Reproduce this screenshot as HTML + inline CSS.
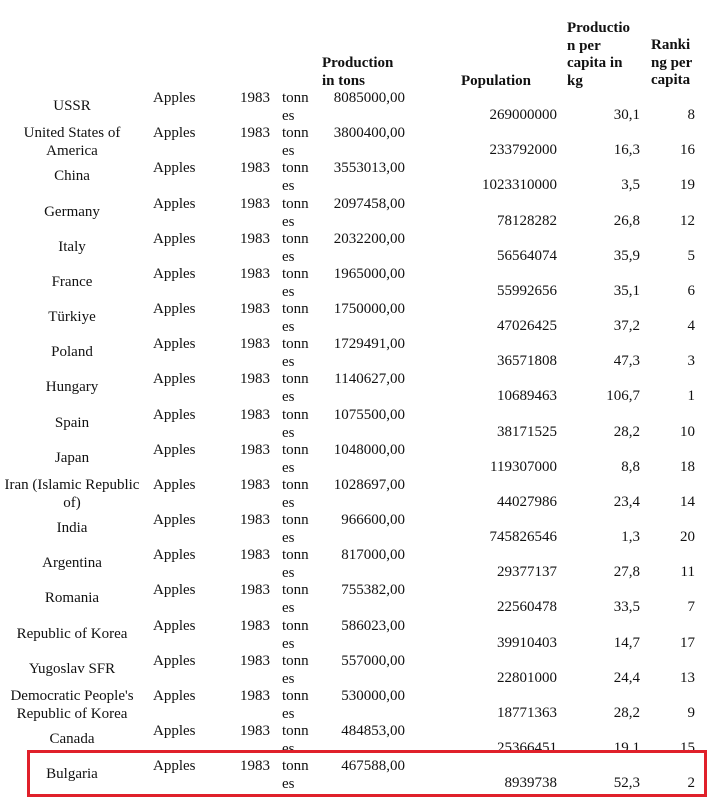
<!DOCTYPE html>
<html><head><meta charset="utf-8"><style>
body{margin:0;width:712px;height:799px;background:#fff;position:relative;overflow:hidden;font-family:"Liberation Serif",serif;font-size:15px;color:#111;}
.h{position:absolute;font-weight:bold;line-height:17.7px;}
.r{position:absolute;left:0;width:712px;height:35px;}
.r span{position:absolute;line-height:18px;white-space:nowrap;}
.c{left:0;width:144px;text-align:center;}
.a{left:153px;}
.y{left:229px;width:41px;text-align:right;}
.t{left:282px;}
.e{left:282px;}
.p{left:300px;width:105px;text-align:right;}
.po{left:450px;width:107px;text-align:right;}
.pc{left:590px;width:50px;text-align:right;}
.rk{left:660px;width:35px;text-align:right;}
#box{position:absolute;left:27px;top:750px;width:674px;height:41px;border:3px solid #e0202a;background:#fff;z-index:2;}
</style></head><body>
<div class="h" style="left:322px;top:55px">Production<br>in tons</div>
<div class="h" style="left:461px;top:73px">Population</div>
<div class="h" style="left:567px;top:20px">Productio<br>n per<br>capita in<br>kg</div>
<div class="h" style="left:651px;top:37px">Ranki<br>ng per<br>capita</div>

<div class="r" style="top:89px"><span class="c" style="top:8px">USSR</span><span class="a">Apples</span><span class="y">1983</span><span class="t">tonn</span><span class="e" style="top:18px">es</span><span class="p">8085000,00</span><span class="po" style="top:17px">269000000</span><span class="pc" style="top:17px">30,1</span><span class="rk" style="top:17px">8</span></div>
<div class="r" style="top:124px"><span class="c" style="top:0">United States of<br>America</span><span class="a">Apples</span><span class="y">1983</span><span class="t">tonn</span><span class="e" style="top:18px">es</span><span class="p">3800400,00</span><span class="po" style="top:17px">233792000</span><span class="pc" style="top:17px">16,3</span><span class="rk" style="top:17px">16</span></div>
<div class="r" style="top:159px"><span class="c" style="top:8px">China</span><span class="a">Apples</span><span class="y">1983</span><span class="t">tonn</span><span class="e" style="top:18px">es</span><span class="p">3553013,00</span><span class="po" style="top:17px">1023310000</span><span class="pc" style="top:17px">3,5</span><span class="rk" style="top:17px">19</span></div>
<div class="r" style="top:195px"><span class="c" style="top:8px">Germany</span><span class="a">Apples</span><span class="y">1983</span><span class="t">tonn</span><span class="e" style="top:18px">es</span><span class="p">2097458,00</span><span class="po" style="top:17px">78128282</span><span class="pc" style="top:17px">26,8</span><span class="rk" style="top:17px">12</span></div>
<div class="r" style="top:230px"><span class="c" style="top:8px">Italy</span><span class="a">Apples</span><span class="y">1983</span><span class="t">tonn</span><span class="e" style="top:18px">es</span><span class="p">2032200,00</span><span class="po" style="top:17px">56564074</span><span class="pc" style="top:17px">35,9</span><span class="rk" style="top:17px">5</span></div>
<div class="r" style="top:265px"><span class="c" style="top:8px">France</span><span class="a">Apples</span><span class="y">1983</span><span class="t">tonn</span><span class="e" style="top:18px">es</span><span class="p">1965000,00</span><span class="po" style="top:17px">55992656</span><span class="pc" style="top:17px">35,1</span><span class="rk" style="top:17px">6</span></div>
<div class="r" style="top:300px"><span class="c" style="top:8px">Türkiye</span><span class="a">Apples</span><span class="y">1983</span><span class="t">tonn</span><span class="e" style="top:18px">es</span><span class="p">1750000,00</span><span class="po" style="top:17px">47026425</span><span class="pc" style="top:17px">37,2</span><span class="rk" style="top:17px">4</span></div>
<div class="r" style="top:335px"><span class="c" style="top:8px">Poland</span><span class="a">Apples</span><span class="y">1983</span><span class="t">tonn</span><span class="e" style="top:18px">es</span><span class="p">1729491,00</span><span class="po" style="top:17px">36571808</span><span class="pc" style="top:17px">47,3</span><span class="rk" style="top:17px">3</span></div>
<div class="r" style="top:370px"><span class="c" style="top:8px">Hungary</span><span class="a">Apples</span><span class="y">1983</span><span class="t">tonn</span><span class="e" style="top:18px">es</span><span class="p">1140627,00</span><span class="po" style="top:17px">10689463</span><span class="pc" style="top:17px">106,7</span><span class="rk" style="top:17px">1</span></div>
<div class="r" style="top:406px"><span class="c" style="top:8px">Spain</span><span class="a">Apples</span><span class="y">1983</span><span class="t">tonn</span><span class="e" style="top:18px">es</span><span class="p">1075500,00</span><span class="po" style="top:17px">38171525</span><span class="pc" style="top:17px">28,2</span><span class="rk" style="top:17px">10</span></div>
<div class="r" style="top:441px"><span class="c" style="top:8px">Japan</span><span class="a">Apples</span><span class="y">1983</span><span class="t">tonn</span><span class="e" style="top:18px">es</span><span class="p">1048000,00</span><span class="po" style="top:17px">119307000</span><span class="pc" style="top:17px">8,8</span><span class="rk" style="top:17px">18</span></div>
<div class="r" style="top:476px"><span class="c" style="top:0">Iran (Islamic Republic<br>of)</span><span class="a">Apples</span><span class="y">1983</span><span class="t">tonn</span><span class="e" style="top:18px">es</span><span class="p">1028697,00</span><span class="po" style="top:17px">44027986</span><span class="pc" style="top:17px">23,4</span><span class="rk" style="top:17px">14</span></div>
<div class="r" style="top:511px"><span class="c" style="top:8px">India</span><span class="a">Apples</span><span class="y">1983</span><span class="t">tonn</span><span class="e" style="top:18px">es</span><span class="p">966600,00</span><span class="po" style="top:17px">745826546</span><span class="pc" style="top:17px">1,3</span><span class="rk" style="top:17px">20</span></div>
<div class="r" style="top:546px"><span class="c" style="top:8px">Argentina</span><span class="a">Apples</span><span class="y">1983</span><span class="t">tonn</span><span class="e" style="top:18px">es</span><span class="p">817000,00</span><span class="po" style="top:17px">29377137</span><span class="pc" style="top:17px">27,8</span><span class="rk" style="top:17px">11</span></div>
<div class="r" style="top:581px"><span class="c" style="top:8px">Romania</span><span class="a">Apples</span><span class="y">1983</span><span class="t">tonn</span><span class="e" style="top:18px">es</span><span class="p">755382,00</span><span class="po" style="top:17px">22560478</span><span class="pc" style="top:17px">33,5</span><span class="rk" style="top:17px">7</span></div>
<div class="r" style="top:617px"><span class="c" style="top:8px">Republic of Korea</span><span class="a">Apples</span><span class="y">1983</span><span class="t">tonn</span><span class="e" style="top:18px">es</span><span class="p">586023,00</span><span class="po" style="top:17px">39910403</span><span class="pc" style="top:17px">14,7</span><span class="rk" style="top:17px">17</span></div>
<div class="r" style="top:652px"><span class="c" style="top:8px">Yugoslav SFR</span><span class="a">Apples</span><span class="y">1983</span><span class="t">tonn</span><span class="e" style="top:18px">es</span><span class="p">557000,00</span><span class="po" style="top:17px">22801000</span><span class="pc" style="top:17px">24,4</span><span class="rk" style="top:17px">13</span></div>
<div class="r" style="top:687px"><span class="c" style="top:0">Democratic People's<br>Republic of Korea</span><span class="a">Apples</span><span class="y">1983</span><span class="t">tonn</span><span class="e" style="top:18px">es</span><span class="p">530000,00</span><span class="po" style="top:17px">18771363</span><span class="pc" style="top:17px">28,2</span><span class="rk" style="top:17px">9</span></div>
<div class="r" style="top:722px"><span class="c" style="top:8px">Canada</span><span class="a">Apples</span><span class="y">1983</span><span class="t">tonn</span><span class="e" style="top:18px">es</span><span class="p">484853,00</span><span class="po" style="top:17px">25366451</span><span class="pc" style="top:17px">19,1</span><span class="rk" style="top:17px">15</span></div>
<div id="box"></div>
<div class="r" style="top:757px;z-index:3"><span class="c" style="top:8px">Bulgaria</span><span class="a">Apples</span><span class="y">1983</span><span class="t">tonn</span><span class="e" style="top:18px">es</span><span class="p">467588,00</span><span class="po" style="top:17px">8939738</span><span class="pc" style="top:17px">52,3</span><span class="rk" style="top:17px">2</span></div>
</body></html>
